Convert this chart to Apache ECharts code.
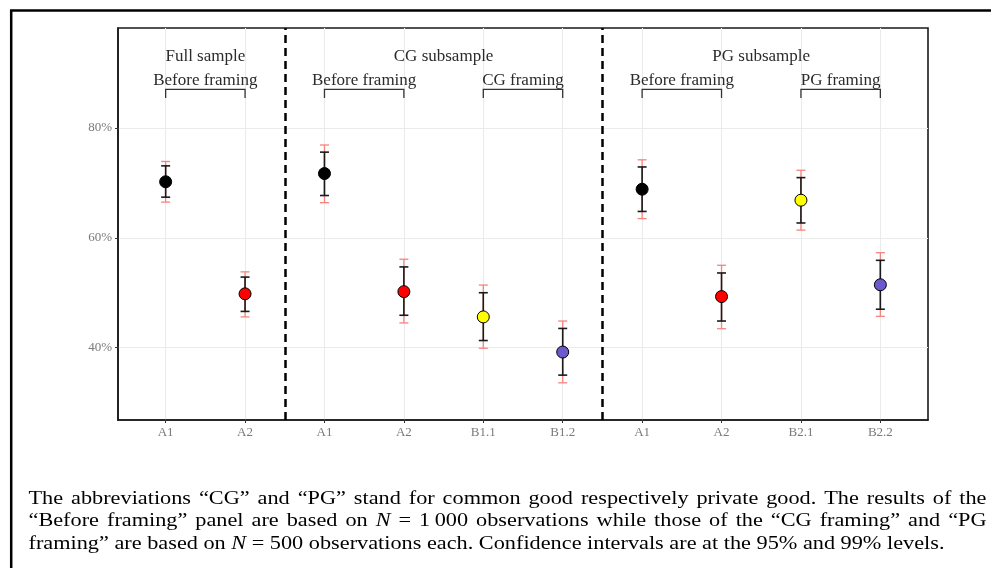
<!DOCTYPE html>
<html><head><meta charset="utf-8">
<script src="https://cdn.jsdelivr.net/npm/echarts@6/dist/echarts.min.js"></script>
<style>html,body{margin:0;padding:0;background:#fff}#c{width:991px;height:568px}</style>
</head><body><div id="c"></div>
<script>
// ---- data ----
const tickLabels = ['A1','A2','A1','A2','B1.1','B1.2','A1','A2','B2.1','B2.2'];
const positions  = [1,2,3,4,5,6,7,8,9,10];
const estimates  = [70.2, 49.8, 71.7, 50.2, 45.6, 39.2, 68.85, 49.3, 66.85, 51.45];
const ci95Low    = [67.4, 46.6, 67.7, 45.9, 41.3, 35.0, 64.8, 44.85, 62.7, 47.0];
const ci95High   = [73.1, 52.85, 75.6, 54.7, 50.0, 43.5, 72.9, 53.6, 70.96, 55.9];
const ci99Low    = [66.5, 45.6, 66.4, 44.5, 39.9, 33.6, 63.5, 43.45, 61.4, 45.7];
const ci99High   = [73.9, 53.8, 76.9, 56.1, 51.4, 44.85, 74.2, 55.0, 72.3, 57.3];
const pointColors = ['#000000','#FF0000','#000000','#FF0000','#FFFF00','#6A5ACD','#000000','#FF0000','#FFFF00','#6A5ACD'];
const yTicks = [40, 60, 80];
const separators = [2.5, 6.5];
const sampleLabels = ['Full sample','CG subsample','PG subsample'];
const sampleCenters = [1.5, 4.5, 8.5];
const panelLabels = ['Before framing','Before framing','CG framing','Before framing','PG framing'];
const panelFrom = [1,3,5,7,9];
const panelTo   = [2,4,6,8,10];
const captionLines = [
  'The abbreviations \u201CCG\u201D and \u201CPG\u201D stand for common good respectively private good. The results of the',
  '\u201CBefore framing\u201D panel are based on N = 1\u2009000 observations while those of the \u201CCG framing\u201D and \u201CPG',
  'framing\u201D are based on N = 500 observations each. Confidence intervals are at the 95% and 99% levels.'
];

// ---- layout / style ----
const SERIF = '"Liberation Serif", "Times New Roman", serif';
const Y_SAMPLE = 92.93, Y_PANEL = 88.65, Y_BRACKET = 87.04, Y_TIP = 85.45;

function errorBar(lows, highs, color, width, capHalf, z) {
  return {
    type: 'custom', z: z, silent: true,
    data: positions.map((x, i) => [x, lows[i], highs[i]]),
    renderItem(params, api) {
      const x = api.value(0);
      const lo = api.coord([x, api.value(1)]);
      const hi = api.coord([x, api.value(2)]);
      const style = { stroke: color, lineWidth: width };
      return { type: 'group', children: [
        { type: 'line', shape: { x1: lo[0], y1: lo[1], x2: hi[0], y2: hi[1] }, style },
        { type: 'line', shape: { x1: lo[0] - capHalf, y1: lo[1], x2: lo[0] + capHalf, y2: lo[1] }, style },
        { type: 'line', shape: { x1: hi[0] - capHalf, y1: hi[1], x2: hi[0] + capHalf, y2: hi[1] }, style }
      ]};
    }
  };
}

// ---- caption layout (measure text) ----
const ctx = document.createElement('canvas').getContext('2d');
function fontStr(size, italic) { return (italic ? 'italic ' : '') + size + 'px ' + SERIF; }
function wordW(w, size) { ctx.font = fontStr(size, w === 'N'); return ctx.measureText(w).width; }
function lineWords(s) { return s.split(' ').filter(w => w.length); }
function naturalWidth(words, size) {
  ctx.font = fontStr(size, false);
  const sp = ctx.measureText(' ').width;
  return words.reduce((a, w) => a + wordW(w, size), 0) + sp * (words.length - 1);
}
const capSize = 19.2;
const L3 = lineWords(captionLines[2]);
const capScale = 916 / naturalWidth(L3, capSize);
const capLeft = 28.5, capRight = 986.5;
const baselines = [505, 527.5, 550];
const captionGraphics = [];
captionLines.forEach((line, li) => {
  const words = lineWords(line);
  const widths = words.map(w => wordW(w, capSize) * capScale);
  let gap;
  if (li < 2) {
    gap = (capRight - capLeft - widths.reduce((a, b) => a + b, 0)) / (words.length - 1);
  } else {
    ctx.font = fontStr(capSize, false); gap = ctx.measureText(' ').width * capScale;
  }
  let x = capLeft;
  words.forEach((w, i) => {
    captionGraphics.push({
      type: 'text', x: x, y: baselines[li] - 0.34 * capSize, scaleX: capScale, silent: true,
      style: { text: w, font: fontStr(capSize, w === 'N'), fill: '#000', align: 'left', verticalAlign: 'middle' }
    });
    x += widths[i] + gap;
  });
});

const chart = echarts.init(document.getElementById('c'), null, { renderer: 'canvas' });
chart.setOption({
  animation: false,
  backgroundColor: '#fff',
  grid: { left: 118, top: 28, width: 810, height: 392, show: true, borderColor: '#1a1a1a', borderWidth: 1.6, backgroundColor: 'transparent' },
  xAxis: {
    type: 'value', min: 0.4, max: 10.6,
    axisLine: { show: true, onZero: false, lineStyle: { color: '#1a1a1a', width: 1.6 } },
    axisTick: { show: true, customValues: positions, length: 3, lineStyle: { color: '#333', width: 1 } },
    axisLabel: { customValues: positions, formatter: v => tickLabels[positions.indexOf(Math.round(v))], color: '#7a7a7a', fontFamily: SERIF, fontSize: 13, margin: 6 },
    splitLine: { show: true, lineStyle: { color: '#EBEBEB', width: 1.1 } }
  },
  yAxis: {
    type: 'value', min: 26.83, max: 98.2,
    axisLine: { show: true, onZero: false, lineStyle: { color: '#1a1a1a', width: 1.6 } },
    axisTick: { show: true, customValues: yTicks, length: 3, lineStyle: { color: '#333', width: 1 } },
    axisLabel: { customValues: yTicks, formatter: '{value}%', color: '#7a7a7a', fontFamily: SERIF, fontSize: 13, margin: 6 },
    splitLine: { show: true, lineStyle: { color: '#EBEBEB', width: 1.1 } }
  },
  graphic: [
    { type: 'line', silent: true, shape: { x1: 10, y1: 10.5, x2: 991, y2: 10.5 }, style: { stroke: '#000', lineWidth: 2.5 } },
    { type: 'line', silent: true, shape: { x1: 11.2, y1: 10, x2: 11.2, y2: 568 }, style: { stroke: '#000', lineWidth: 2.5 } }
  ].concat(captionGraphics),
  series: [
    errorBar(ci99Low, ci99High, '#F5847D', 1.3, 4.5, 2),
    errorBar(ci95Low, ci95High, '#1a1a1a', 1.6, 4.5, 3),
    {
      type: 'scatter', z: 4, symbol: 'circle', symbolSize: 12,
      itemStyle: { borderColor: '#000', borderWidth: 1, opacity: 1 },
      data: positions.map((x, i) => ({ value: [x, estimates[i]], itemStyle: { color: pointColors[i] } })),
      markLine: {
        silent: true, symbol: 'none', animation: false,
        label: { show: false },
        lineStyle: { color: '#000', width: 2.5, type: [8, 5] },
        data: separators.map(v => ({ xAxis: v }))
      }
    },
    {
      type: 'custom', z: 5, silent: true, clip: false,
      data: panelFrom.map((f, i) => [f, panelTo[i]]),
      renderItem(params, api) {
        const a = api.coord([api.value(0), Y_BRACKET]);
        const b = api.coord([api.value(1), Y_BRACKET]);
        const ta = api.coord([api.value(0), Y_TIP]);
        const tb = api.coord([api.value(1), Y_TIP]);
        const c = api.coord([(api.value(0) + api.value(1)) / 2, Y_PANEL]);
        return { type: 'group', children: [
          { type: 'polyline', shape: { points: [ta, a, b, tb] }, style: { stroke: '#333', lineWidth: 1.3, fill: null } },
          { type: 'text', x: c[0], y: c[1], style: { text: panelLabels[params.dataIndex], font: fontStr(17, false), fill: '#2b2b2b', align: 'center', verticalAlign: 'middle' } }
        ]};
      }
    },
    {
      type: 'custom', z: 5, silent: true, clip: false,
      data: sampleCenters.map(c => [c, Y_SAMPLE]),
      renderItem(params, api) {
        const p = api.coord([api.value(0), api.value(1)]);
        return { type: 'text', x: p[0], y: p[1], style: { text: sampleLabels[params.dataIndex], font: fontStr(17, false), fill: '#2b2b2b', align: 'center', verticalAlign: 'middle' } };
      }
    }
  ]
});
</script>
</body></html>
